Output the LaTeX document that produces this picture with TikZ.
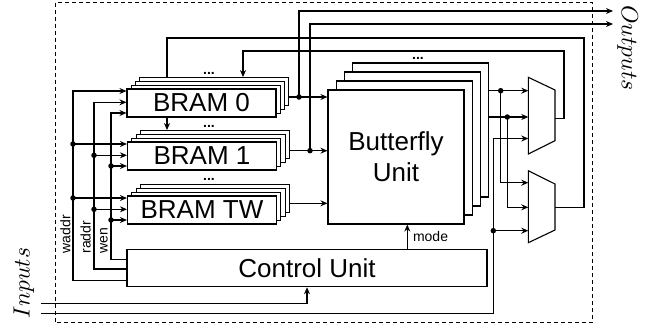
\documentclass[tikz,border=0pt]{standalone}
\usepackage{fontspec}
\setmainfont{Liberation Sans}
\usetikzlibrary{arrows.meta}
\tikzset{
  arr/.style={-{Stealth[length=7pt,width=6pt]}},
  layer/.style={draw, fill=white, line width=1.1pt, inner sep=0pt},
  bramL/.style={layer, minimum width=149pt, minimum height=28pt, font=\fontsize{26}{26}\selectfont},
  bfL/.style={layer, minimum width=136pt, minimum height=134pt, font=\fontsize{26}{31}\selectfont, align=center},
  jdot/.style={circle, fill, inner sep=0pt, minimum size=5.5pt},
  ellip/.style={font=\fontsize{14}{14}\selectfont\bfseries, inner sep=0pt, anchor=base},
  sig/.style={font=\fontsize{14}{14}\selectfont, inner sep=0.5pt},
  muxs/.style={draw, fill=white, line width=1.1pt, line join=miter},
  frame/.style={line width=1pt, dash pattern=on 4pt off 3pt}
}
\begin{document}
\begin{tikzpicture}[x=1pt,y=-1pt,line width=1.1pt]
\useasboundingbox (0,0) rectangle (657,330);
\draw[frame] (55,2.7) rectangle (592.3,322.7);

% BRAM 0 stack
\node[bramL] (b0c) at (214.4,91.6) {};
\node[bramL] (b0b) at (210.1,95.4) {};
\node[bramL] (b0a) at (205.8,99.2) {};
\node[bramL] (b0) at (201.5,103) {BRAM 0};
\node[ellip] (e0) at (209,74) {...};
% BRAM 1 stack
\node[bramL] (b1c) at (214.9,144.6) {};
\node[bramL] (b1b) at (210.6,148.4) {};
\node[bramL] (b1a) at (206.3,152.2) {};
\node[bramL] (b1) at (202,156) {BRAM 1};
\node[ellip] (e1) at (209,127.5) {...};
% BRAM TW stack
\node[bramL] (btc) at (214.9,198.6) {};
\node[bramL] (btb) at (210.6,202.4) {};
\node[bramL] (bta) at (206.3,206.2) {};
\node[bramL] (bt) at (202,210) {BRAM TW};
\node[ellip] (e2) at (209,180) {...};

% Butterfly stack
\node[bfL] (bfc) at (420.3,130) {};
\node[bfL] (bfb) at (412.2,139) {};
\node[bfL] (bfa) at (404.1,148) {};
\node[bfL] (bf) at (396,157) {Butterfly\\Unit};
\node[ellip] (e3) at (418,59.5) {...};

% Control unit
\node[layer, minimum width=360pt, minimum height=37.4pt, font=\fontsize{26}{26}\selectfont] (cu) at (307,268) {Control Unit};

% Muxes
\draw[muxs] (528.3,77.3) -- (555,90) -- (555,140.7) -- (528.3,154) -- cycle;
\draw[muxs] (528.3,170.7) -- (555,184) -- (555,230) -- (528.3,242.7) -- cycle;
\coordinate (m1i1) at (528.3,90.7);
\coordinate (m1i2) at (528.3,117);
\coordinate (m1i3) at (528.3,138.5);
\coordinate (m1o) at (555,118.3);
\coordinate (m2i1) at (528.3,182.7);
\coordinate (m2i2) at (528.3,207.3);
\coordinate (m2i3) at (528.3,230.7);
\coordinate (m2o) at (555,207.3);

% BRAM outputs to butterfly and to outputs
\coordinate (j0) at (299,97);
\coordinate (j1) at (310,150.7);
\coordinate (jt) at (305,203.3);
\coordinate (o0) at (613,11);
\coordinate (o1) at (613,24);
\draw[arr] (b0c.east |- j0) -- (bf.west |- j0);
\draw[arr] (b1c.east |- j1) -- (bf.west |- j1);
\draw[arr] (btc.east |- jt) -- (bf.west |- jt);
\draw[arr] (j0) -- (j0 |- o0) -- (o0);
\draw[arr] (j1) -- (j1 |- o1) -- (o1);
\node[jdot] at (j0) {};
\node[jdot] at (j1) {};

% feedback from muxes to BRAMs
\coordinate (f1) at (564,51);
\coordinate (f1t) at (243,51);
\draw[arr] (m1o) -- (f1 |- m1o) -- (f1) -- (f1t) -- (f1t |- b0c.north);
\coordinate (f2) at (584,38);
\coordinate (f2t) at (167,38);
\draw (m2o) -- (f2 |- m2o) -- (f2) -- (f2t) -- (f2t |- b0c.north);
\draw[arr] (b0.south -| f2t) -- (f2t |- b1c.north);

% butterfly to muxes
\coordinate (bo1) at (500.7,90.7);
\coordinate (bo2) at (507.3,117);
\draw[arr] (bfc.east |- bo1) -- (m1i1);
\draw[arr] (bfc.east |- bo2) -- (m1i2);
\draw[arr] (bo1) -- (bo1 |- m2i1) -- (m2i1);
\draw[arr] (bo2) -- (bo2 |- m2i2) -- (m2i2);
\node[jdot] at (bo1) {};
\node[jdot] at (bo2) {};

% inputs
\coordinate (in1) at (41,303.3);
\coordinate (in2) at (41,313.3);
\coordinate (jm) at (493.3,230.7);
\draw[arr] (in1) -- (cu.south |- in1) -- (cu.south);
\draw[arr] (in2) -- (jm |- in2) -- (jm |- m1i3) -- (m1i3);
\draw[arr] (jm) -- (m2i3);
\node[jdot] at (jm) {};

% mode
\coordinate (md) at (407.3,240);
\draw[arr] (md |- cu.north) -- (md |- bf.south);
\node[sig, anchor=west] (mode) at (412,236) {mode};

% control lines: waddr
\coordinate (wa) at (73,280.7);
\coordinate (wa0) at (73,91);
\coordinate (wa1) at (73,144);
\coordinate (wa2) at (73,198);
\draw[arr] (cu.west |- wa) -- (wa) -- (wa0) -- (b0.west |- wa0);
\draw[arr] (wa1) -- (b1.west |- wa1);
\draw[arr] (wa2) -- (bt.west |- wa2);
\node[jdot] at (wa1) {};
\node[jdot] at (wa2) {};
% raddr
\coordinate (ra) at (94,269);
\coordinate (ra0) at (94,102.3);
\coordinate (ra1) at (94,155.3);
\coordinate (ra2) at (94,209.3);
\draw[arr] (cu.west |- ra) -- (ra) -- (ra0) -- (b0.west |- ra0);
\draw[arr] (ra1) -- (b1.west |- ra1);
\draw[arr] (ra2) -- (bt.west |- ra2);
\node[jdot] at (ra1) {};
\node[jdot] at (ra2) {};
% wen
\coordinate (we) at (111,259.3);
\coordinate (we0) at (111,113);
\coordinate (we1) at (111,166);
\coordinate (we2) at (111,220);
\draw[arr] (cu.west |- we) -- (we) -- (we0) -- (b0.west |- we0);
\draw[arr] (we1) -- (b1.west |- we1);
\draw[arr] (we2) -- (bt.west |- we2);
\node[jdot] at (we1) {};
\node[jdot] at (we2) {};

\node[sig, rotate=90, anchor=south west] (lwa) at (71.5,254.5) {waddr};
\node[sig, rotate=90, anchor=south west] (lra) at (91.8,254.5) {raddr};
\node[sig, rotate=90, anchor=south west] (lwe) at (108.8,254.5) {wen};

% Inputs / Outputs labels
\node[rotate=90, scale=2.35] (lin) at (24,283) {$Inputs$};
\node[rotate=-90, scale=2.35] (lout) at (627.5,48) {$Outputs$};
\end{tikzpicture}
\end{document}
